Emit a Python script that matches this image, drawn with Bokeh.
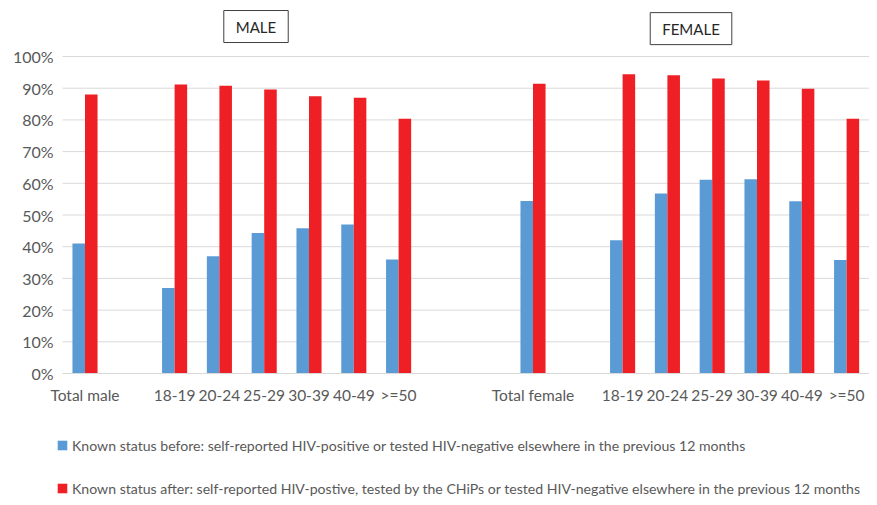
from bokeh.plotting import figure
from bokeh.models import (ColumnDataSource, FixedTicker, Legend, LegendItem, Label,
                          Range1d, NumeralTickFormatter)
from bokeh.embed import file_html
from bokeh.resources import INLINE

categories = ["Total male", "", "18-19", "20-24", "25-29", "30-39", "40-49", ">=50",
              "", "", "Total female", "", "18-19", "20-24", "25-29", "30-39", "40-49", ">=50"]
before = [0.410, None, 0.270, 0.370, 0.443, 0.458, 0.470, 0.360,
          None, None, 0.544, None, 0.420, 0.568, 0.611, 0.613, 0.543, 0.358]
after = [0.880, None, 0.912, 0.908, 0.896, 0.875, 0.870, 0.804,
         None, None, 0.914, None, 0.944, 0.941, 0.931, 0.924, 0.898, 0.804]
series_labels = [
    "Known status before: self-reported HIV-positive or tested HIV-negative elsewhere in the previous 12 months",
    "Known status after: self-reported HIV-postive, tested by the CHiPs or tested HIV-negative elsewhere in the previous 12 months",
]
group_titles = ["MALE", "FEMALE"]
y_ticks = [0, 0.1, 0.2, 0.3, 0.4, 0.5, 0.6, 0.7, 0.8, 0.9, 1.0]

BLUE = "#5B9BD5"
RED = "#EE1F25"
TXT = "#595959"
GRID = "#D9D9D9"
FONT = "Lato"

n = len(categories)
x_lo, x_hi = -0.5, n - 0.5

idx = [i for i, v in enumerate(before) if v is not None]
src_b = ColumnDataSource(dict(x=[i - 0.14 for i in idx], top=[before[i] for i in idx]))
src_a = ColumnDataSource(dict(x=[i + 0.14 for i in idx], top=[after[i] for i in idx]))
src_g = ColumnDataSource(dict(y=y_ticks, x0=[x_lo] * len(y_ticks), x1=[x_hi] * len(y_ticks)))

# the frame covers the whole canvas so that the boxed titles and the legend below
# the axis are not clipped; axes are pinned at x=-0.5 and y=0
p = figure(width=869, height=497, output_backend="svg", toolbar_location=None,
           x_range=Range1d(-1.8862, 17.511), y_range=Range1d(-0.3912, 1.1767),
           min_border_left=0, min_border_right=0, min_border_top=0, min_border_bottom=0)
p.outline_line_color = None
p.xgrid.grid_line_color = None
p.ygrid.grid_line_color = None

p.segment(x0="x0", x1="x1", y0="y", y1="y", source=src_g, line_color=GRID, line_width=1)
rb = p.vbar(x="x", top="top", width=0.28, source=src_b, fill_color=BLUE, line_color=None)
ra = p.vbar(x="x", top="top", width=0.28, source=src_a, fill_color=RED, line_color=None)

xa = p.xaxis[0]
xa.fixed_location = 0
xa.bounds = (x_lo, x_hi)
xa.ticker = FixedTicker(ticks=[i for i, c in enumerate(categories) if c])
xa.major_label_overrides = {i: c for i, c in enumerate(categories) if c}
xa.major_tick_line_color = None
xa.minor_tick_line_color = None
xa.major_tick_out = 0
xa.minor_tick_out = 0
xa.axis_line_color = GRID
xa.major_label_text_font = FONT
xa.major_label_text_font_size = "15.5px"
xa.major_label_text_color = TXT
xa.major_label_standoff = 13

ya = p.yaxis[0]
ya.fixed_location = x_lo
ya.ticker = FixedTicker(ticks=y_ticks)
ya.formatter = NumeralTickFormatter(format="0%")
ya.axis_line_color = None
ya.major_tick_line_color = None
ya.minor_tick_line_color = None
ya.major_tick_out = 0
ya.minor_tick_out = 0
ya.major_label_text_font = FONT
ya.major_label_text_font_size = "16px"
ya.major_label_text_color = TXT
ya.major_label_standoff = 9

legend = Legend(items=[LegendItem(label=series_labels[0], renderers=[rb]),
                       LegendItem(label=series_labels[1], renderers=[ra])],
                location=(56, -1), orientation="vertical",
                padding=0, margin=0, spacing=23, border_line_color=None,
                background_fill_alpha=0, glyph_width=12, glyph_height=12,
                label_standoff=4, label_height=20,
                label_text_font=FONT, label_text_font_size="14.1px", label_text_color=TXT)
p.add_layout(legend, "center")

for title, xc, yc in [(group_titles[0], 3.817, 1.0946), (group_titles[1], 13.527, 1.088)]:
    p.add_layout(Label(x=xc, y=yc, text=title,
                       text_align="center", text_baseline="middle",
                       text_font=FONT, text_font_size="15px", text_color="#262626",
                       border_line_color="#404040", border_line_width=1,
                       background_fill_color="white",
                       padding=dict(left=12, right=12, top=7, bottom=7)))

open("out.html", "w").write(file_html(p, INLINE))
